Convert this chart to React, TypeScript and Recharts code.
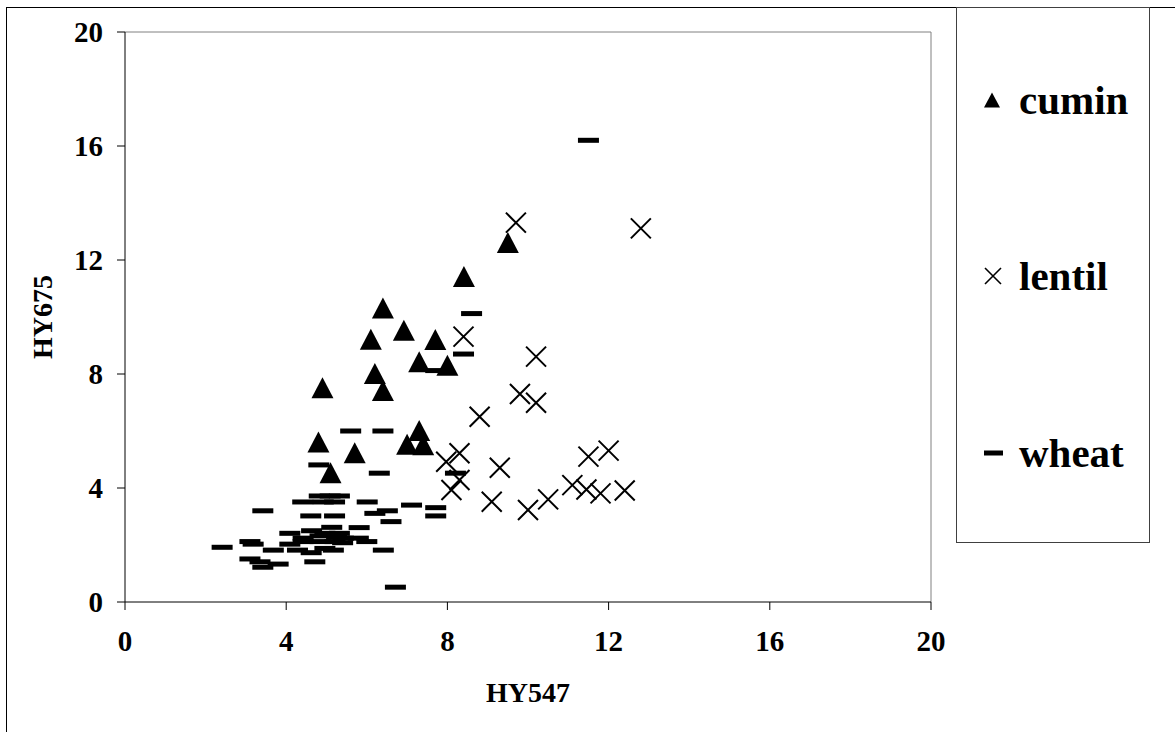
import React from "react";
import {
  ScatterChart,
  Scatter,
  XAxis,
  YAxis,
  ReferenceLine,
  Legend,
} from "recharts";

// values
const cuminX = [9.5, 8.41, 6.4, 6.1, 6.92, 7.7, 7.3, 8.0, 6.2, 6.4, 4.9, 4.8, 5.7, 5.1, 7.3, 7.0, 7.4];
const cuminY = [12.6, 11.4, 10.3, 9.2, 9.52, 9.19, 8.41, 8.29, 8.0, 7.4, 7.5, 5.6, 5.22, 4.52, 6.0, 5.52, 5.5];

const lentilX = [9.7, 12.8, 8.4, 10.2, 9.8, 10.2, 8.8, 8.3, 7.97, 9.3, 8.3, 8.1, 9.1, 10.0, 10.5, 11.1, 11.5, 12.0, 11.8, 12.4, 11.45];
const lentilY = [13.31, 13.11, 9.31, 8.61, 7.3, 6.99, 6.5, 5.22, 4.92, 4.71, 4.28, 3.93, 3.52, 3.23, 3.6, 4.1, 5.1, 5.31, 3.81, 3.91, 3.95];

const wheatX = [
  11.5, 8.6, 8.4, 7.71, 5.6, 6.4, 4.81, 6.31, 8.2, 4.82, 5.09, 5.32, 4.41, 4.92, 5.2, 6.01,
  3.42, 4.61, 5.2, 7.11, 7.71, 7.71, 6.2, 6.51, 6.6, 5.13, 5.81, 4.09, 4.63, 5.32, 4.84, 5.25,
  5.79, 3.1, 3.18, 4.09, 4.42, 4.84, 5.21, 6.0, 5.4, 2.41, 3.68, 4.28, 4.96, 4.62, 5.17, 6.41,
  3.1, 3.35, 3.8, 3.42, 4.71, 6.71, 4.42, 5.42, 4.96,
];
const wheatY = [
  16.2, 10.12, 8.7, 8.12, 6.0, 6.0, 4.81, 4.52, 4.52, 3.72, 3.72, 3.72, 3.51, 3.51, 3.51, 3.51,
  3.2, 3.02, 3.02, 3.4, 3.31, 3.02, 3.11, 3.2, 2.82, 2.62, 2.61, 2.41, 2.5, 2.41, 2.32, 2.27,
  2.24, 2.12, 2.03, 2.03, 2.12, 2.12, 2.12, 2.12, 2.08, 1.92, 1.82, 1.82, 1.88, 1.73, 1.82, 1.82,
  1.51, 1.41, 1.33, 1.22, 1.41, 0.52, 2.24, 2.24, 2.41,
];

const axisTicks = [0, 4, 8, 12, 16, 20];

const toPoints = (xs: number[], ys: number[]) => xs.map((x, i) => ({ x, y: ys[i] }));

const cumin = toPoints(cuminX, cuminY);
const lentil = toPoints(lentilX, lentilY);
const wheat = toPoints(wheatX, wheatY);

const FONT = '"Liberation Serif", "Times New Roman", serif';

const Triangle = (props: any) => {
  const { cx, cy } = props;
  if (cx == null || cy == null) return null;
  return (
    <polygon
      points={`${cx},${cy - 11} ${cx - 11},${cy + 10} ${cx + 11},${cy + 10}`}
      fill="#000"
    />
  );
};

const Cross = (props: any) => {
  const { cx, cy } = props;
  if (cx == null || cy == null) return null;
  const r = 10;
  return (
    <path
      d={`M${cx - r},${cy - r}L${cx + r},${cy + r}M${cx - r},${cy + r}L${cx + r},${cy - r}`}
      stroke="#000"
      strokeWidth={2}
      fill="none"
    />
  );
};

const Dash = (props: any) => {
  const { cx, cy } = props;
  if (cx == null || cy == null) return null;
  return <rect x={cx - 10.5} y={cy - 2.5} width={21} height={5} fill="#000" />;
};

const legendIcon = (name: string) => {
  if (name === "cumin")
    return (
      <svg width={16} height={16} style={{ position: "absolute", left: 27, top: 12 }}>
        <polygon points="8,0.5 0,15.5 16,15.5" fill="#000" />
      </svg>
    );
  if (name === "lentil")
    return (
      <svg width={18} height={18} style={{ position: "absolute", left: 27, top: 11 }}>
        <path d="M1,1L17,17M1,17L17,1" stroke="#000" strokeWidth={1.6} />
      </svg>
    );
  return (
    <svg width={20} height={6} style={{ position: "absolute", left: 27, top: 17 }}>
      <rect x={0} y={0.5} width={19} height={5} fill="#000" />
    </svg>
  );
};

const entryTops = [72, 248, 425];

const LegendBox = (props: any) => {
  const payload = props.payload || [];
  return (
    <div
      style={{
        position: "relative",
        width: 194,
        height: 536,
        boxSizing: "border-box",
        border: "1px solid #404040",
        background: "#fff",
      }}
    >
      {payload.map((entry: any, i: number) => (
        <div
          key={entry.value}
          style={{ position: "absolute", left: 0, top: entryTops[i], width: "100%", height: 40 }}
        >
          {legendIcon(entry.value)}
          <span
            style={{
              position: "absolute",
              left: 62,
              top: 0,
              lineHeight: "40px",
              fontFamily: FONT,
              fontWeight: "bold",
              fontSize: 41,
              color: "#000",
            }}
          >
            {entry.value}
          </span>
        </div>
      ))}
    </div>
  );
};

const tickStyle = { fill: "#000", fontSize: 29, fontWeight: "bold", fontFamily: FONT };

export default function App() {
  return (
    <div
      style={{
        position: "absolute",
        left: 0,
        top: 0,
        width: 1175,
        height: 732,
        overflow: "hidden",
        background: "#fff",
      }}
    >
      <div
        style={{
          position: "absolute",
          left: 6,
          top: 7,
          width: 1200,
          height: 800,
          border: "1px solid #000",
        }}
      />
      <div style={{ position: "absolute", left: 0, top: 0 }}>
        <ScatterChart
          width={1175}
          height={732}
          margin={{ top: 32, right: 244, bottom: 60, left: 25 }}
        >
          <XAxis
            type="number"
            dataKey="x"
            domain={[0, 20]}
            ticks={axisTicks}
            interval={0}
            height={70}
            tickSize={8}
            tickMargin={20}
            tick={tickStyle}
            axisLine={{ stroke: "#000" }}
            tickLine={{ stroke: "#000" }}
            label={{
              content: (p: any) => {
                const vb = p.viewBox;
                return (
                  <text
                    x={vb.x + vb.width / 2}
                    y={702}
                    textAnchor="middle"
                    fontFamily={FONT}
                    fontWeight="bold"
                    fontSize={28}
                    fill="#000"
                  >
                    HY547
                  </text>
                );
              },
            }}
          />
          <YAxis
            type="number"
            dataKey="y"
            domain={[0, 20]}
            ticks={axisTicks}
            interval={0}
            width={100}
            tickSize={8}
            tickMargin={14}
            tick={tickStyle}
            axisLine={{ stroke: "#000" }}
            tickLine={{ stroke: "#000" }}
            label={{
              content: (p: any) => {
                const vb = p.viewBox;
                const cy = vb.y + vb.height / 2;
                return (
                  <text
                    x={42}
                    y={cy}
                    transform={`rotate(-90, 42, ${cy})`}
                    textAnchor="middle"
                    dominantBaseline="central"
                    fontFamily={FONT}
                    fontWeight="bold"
                    fontSize={28}
                    fill="#000"
                  >
                    HY675
                  </text>
                );
              },
            }}
          />
          <ReferenceLine y={20} stroke="#808080" />
          <ReferenceLine x={20} stroke="#808080" />
          <Legend
            layout="vertical"
            align="center"
            verticalAlign="middle"
            wrapperStyle={{ left: 956, top: 7, width: 194, height: 536 }}
            content={<LegendBox />}
          />
          <Scatter name="cumin" data={cumin} fill="#000" shape={Triangle} isAnimationActive={false} />
          <Scatter name="lentil" data={lentil} fill="#000" shape={Cross} isAnimationActive={false} />
          <Scatter name="wheat" data={wheat} fill="#000" shape={Dash} isAnimationActive={false} />
        </ScatterChart>
      </div>
    </div>
  );
}
